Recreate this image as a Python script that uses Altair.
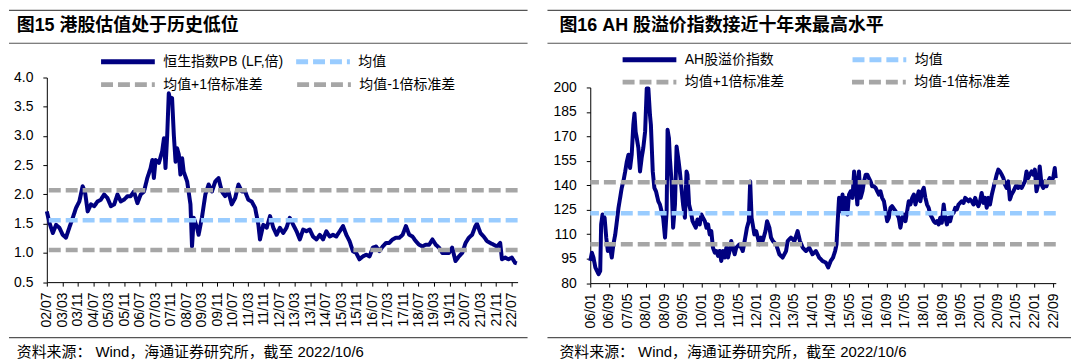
import altair as alt
import pandas as pd

FONT = "Liberation Sans, Noto Sans CJK SC, sans-serif"
NAVY = "#000080"
LIGHT_BLUE = "#99CCFF"
GRAY = "#A6A6A6"
SOURCE = "资料来源：  Wind，海通证券研究所，截至 2022/10/6"

# ---------------- Panel 1: HSI PB ----------------
PB_TITLE = "图15 港股估值处于历史低位"
PB_START = "2002-07-01"
PB_END = (2022, 10, 6)
# months elapsed since PB_START
pb_months = [
    0, 1.4, 3.1, 4.8, 6.5, 8.2, 9.9, 11.6, 13.4, 15.1,
    16.8, 18.5, 19.7, 21.1, 22.8, 24.5, 26.2, 27.9, 29.6, 31.3,
    33.1, 34.8, 36.5, 38.2, 39.9, 41.6, 43.3, 45.0, 46.8, 48.5,
    50.2, 51.9, 53.6, 54.5, 55.3, 56.2, 57.9, 59.6, 60.5, 61.3,
    62.2, 63.0, 63.9, 64.7, 65.6, 66.5, 67.3, 68.2, 69.0, 69.9,
    70.7, 72.5, 74.2, 75.0, 75.9, 77.6, 78.4, 80.1, 81.9, 83.6,
    85.3, 87.0, 88.7, 90.4, 92.1, 93.8, 95.5, 97.3, 99.0, 100.7,
    102.4, 104.1, 105.8, 107.6, 109.3, 110.1, 111.8, 113.6, 115.3, 117.0,
    118.7, 120.4, 122.1, 123.8, 125.5, 127.3, 129.0, 130.7, 132.4, 134.1,
    135.8, 137.5, 139.3, 141.0, 142.7, 144.4, 146.1, 147.8, 149.5, 151.3,
    153.0, 154.7, 156.4, 158.1, 159.8, 161.5, 163.2, 165.0, 166.7, 168.4,
    170.1, 171.8, 173.5, 175.2, 176.9, 178.6, 180.3, 182.1, 183.8, 185.5,
    187.2, 188.9, 190.6, 192.3, 194.0, 195.7, 197.5, 199.2, 200.9, 202.6,
    204.3, 206.0, 207.7, 209.4, 211.1, 212.9, 214.6, 216.3, 218.0, 219.7,
    221.4, 222.2, 224.0, 225.7, 227.4, 229.1, 230.8, 232.5, 234.2, 235.1,
    236.8, 238.5, 240.2, 241.9, 242.8,
]
pb_values = [
    1.71, 1.51, 1.34, 1.48, 1.43, 1.31, 1.26, 1.43, 1.60, 1.77,
    1.88, 2.14, 2.05, 1.71, 1.83, 1.80, 1.88, 1.91, 2.00, 1.94,
    1.80, 1.83, 2.00, 1.88, 1.91, 1.97, 1.97, 2.05, 1.85, 2.00,
    2.05, 2.28, 2.45, 2.59, 2.28, 2.59, 2.54, 2.74, 2.96, 2.45,
    3.02, 3.73, 3.59, 3.65, 3.02, 2.56, 2.79, 2.68, 2.34, 2.62,
    2.39, 2.22, 1.83, 1.11, 1.60, 1.43, 1.31, 1.60, 2.00, 2.17,
    2.05, 2.22, 2.28, 2.05, 1.97, 2.05, 1.83, 1.94, 2.17, 2.05,
    2.05, 1.91, 1.88, 1.77, 1.48, 1.23, 1.48, 1.43, 1.63, 1.43,
    1.31, 1.43, 1.34, 1.43, 1.60, 1.48, 1.37, 1.23, 1.40, 1.37,
    1.40, 1.28, 1.23, 1.31, 1.23, 1.37, 1.28, 1.31, 1.28, 1.37,
    1.46, 1.31, 1.20, 1.03, 1.00, 0.89, 0.94, 0.97, 0.94, 1.09,
    1.11, 1.03, 1.11, 1.17, 1.17, 1.23, 1.26, 1.26, 1.31, 1.46,
    1.31, 1.28, 1.20, 1.14, 1.11, 1.14, 1.14, 1.23, 1.14, 1.09,
    1.00, 1.00, 1.00, 1.09, 0.86, 0.94, 1.00, 1.17, 1.26, 1.31,
    1.46, 1.50, 1.34, 1.28, 1.20, 1.17, 1.14, 1.11, 1.17, 0.89,
    0.92, 0.89, 0.92, 0.83, 0.82,
]
pb_series = ["恒生指数PB (LF,倍)", "均值", "均值+1倍标准差", "均值-1倍标准差"]
pb_ref_values = [1.56, 2.07, 1.05]
pb_y_ticks = [0.5, 1.0, 1.5, 2.0, 2.5, 3.0, 3.5, 4.0]
pb_x_ticks = pd.date_range("2002-07-01", "2022-07-01", freq="8MS")

# ---------------- Panel 2: AH premium ----------------
AH_TITLE = "图16 AH 股溢价指数接近十年来最高水平"
AH_START = "2006-01-01"
AH_END = (2022, 10, 6)
ah_months = [
    0, 0.7, 1.4, 2.2, 2.9, 3.6, 4.3, 4.7, 5.3, 6.2,
    6.9, 7.6, 8.3, 9.3, 10.0, 10.8, 11.5, 12.2, 12.9, 13.6,
    14.3, 15.1, 15.8, 16.5, 17.2, 17.9, 18.6, 19.1, 19.6, 20.1,
    20.8, 21.5, 22.2, 22.9, 23.7, 24.4, 25.1, 25.8, 26.2, 27.0,
    27.7, 28.4, 29.4, 30.1, 30.8, 31.5, 32.3, 33.0, 33.4, 34.0,
    34.4, 35.1, 35.8, 36.6, 37.3, 38.0, 38.7, 39.4, 40.1, 40.9,
    41.6, 42.0, 42.7, 43.4, 44.2, 44.9, 45.6, 46.3, 47.3, 48.0,
    48.7, 49.5, 50.2, 50.9, 51.6, 52.3, 53.0, 53.8, 54.5, 55.2,
    55.9, 56.6, 57.3, 58.1, 58.8, 59.5, 60.2, 60.9, 61.6, 62.4,
    63.1, 64.5, 65.9, 66.7, 67.7, 68.5, 69.1, 69.7, 70.2, 70.9,
    71.7, 72.4, 73.1, 73.8, 74.5, 75.7, 76.4, 77.4, 78.1, 78.9,
    80.3, 81.7, 83.1, 84.6, 85.3, 86.7, 88.2, 89.6, 90.6, 91.8,
    93.2, 94.6, 96.0, 97.5, 98.9, 100.3, 101.8, 102.8, 103.9, 104.9,
    105.8, 106.4, 107.0, 107.5, 108.3, 109.0, 109.7, 110.4, 111.1, 111.8,
    112.5, 113.3, 114.0, 114.7, 115.4, 116.1, 116.8, 117.6, 118.3, 119.0,
    119.7, 120.4, 121.1, 121.8, 122.6, 123.3, 124.0, 124.7, 125.4, 126.1,
    126.9, 127.6, 128.3, 129.0, 129.7, 130.4, 131.9, 133.3, 134.0, 134.8,
    135.5, 136.2, 136.9, 137.6, 138.3, 139.1, 139.8, 140.5, 141.2, 141.9,
    142.6, 143.4, 144.1, 144.8, 145.5, 146.2, 146.9, 147.7, 148.4, 149.1,
    149.8, 150.5, 151.2, 151.9, 152.7, 153.4, 154.1, 154.8, 155.5, 156.2,
    157.0, 157.7, 158.4, 159.1, 159.8, 160.5, 161.3, 162.0, 162.7, 163.4,
    164.1, 164.8, 165.6, 166.3, 167.0, 167.7, 168.4, 169.1, 169.9, 170.6,
    171.3, 172.0, 172.7, 173.5, 174.2, 174.9, 175.6, 176.3, 177.0, 177.8,
    178.5, 179.2, 179.9, 180.6, 181.3, 182.0, 182.8, 183.5, 184.2, 184.9,
    185.6, 186.4, 187.1, 187.8, 188.5, 189.2, 189.9, 190.7, 191.4, 192.1,
    192.8, 193.5, 194.2, 195.0, 195.7, 196.4, 197.1, 197.8, 198.5, 199.3,
    200.0, 200.7, 201.1,
]
ah_values = [
    93.6, 98.7, 95.6, 89.6, 87.5, 85.5, 87.5, 116.0, 122.1, 120.1,
    107.9, 99.7, 103.8, 95.7, 103.8, 109.9, 118.0, 126.2, 132.3, 138.4,
    142.4, 148.5, 154.6, 158.7, 150.6, 158.7, 177.0, 184.1, 172.9, 168.9,
    162.8, 148.5, 156.7, 162.8, 172.9, 199.4, 199.4, 183.1, 177.0, 148.5,
    138.4, 136.3, 130.2, 128.2, 124.1, 120.1, 107.9, 124.1, 174.0, 168.9,
    156.7, 142.4, 114.0, 128.2, 163.8, 156.7, 148.5, 138.4, 128.2, 120.1,
    148.5, 146.5, 128.2, 124.1, 118.0, 116.0, 114.0, 119.0, 116.0, 122.1,
    120.1, 118.0, 114.0, 116.0, 109.9, 111.9, 101.8, 98.7, 99.7, 96.7,
    99.7, 93.6, 99.7, 95.7, 101.8, 95.7, 99.7, 105.8, 101.8, 97.7,
    101.8, 103.8, 99.7, 105.8, 114.0, 118.0, 142.4, 120.1, 116.0, 109.9,
    111.9, 107.9, 103.8, 107.9, 105.8, 111.9, 118.0, 114.0, 107.9, 105.8,
    103.8, 97.7, 95.7, 99.7, 105.8, 107.9, 105.8, 111.9, 105.8, 101.8,
    99.7, 101.8, 97.7, 99.7, 95.7, 93.6, 92.6, 89.6, 93.6, 95.7,
    99.7, 103.8, 120.1, 132.3, 124.1, 134.3, 124.1, 132.3, 122.1, 134.3,
    136.3, 132.3, 148.5, 140.4, 128.2, 148.5, 132.3, 136.3, 142.4, 146.5,
    146.5, 144.4, 142.4, 139.4, 139.4, 138.4, 136.3, 134.3, 136.3, 132.3,
    130.2, 124.1, 118.0, 120.1, 126.2, 127.2, 124.1, 120.1, 114.0, 120.1,
    122.1, 118.0, 124.1, 130.2, 128.2, 132.3, 134.3, 128.2, 132.3, 136.3,
    130.2, 136.3, 138.4, 132.3, 128.2, 126.2, 122.1, 120.1, 118.0, 117.0,
    118.0, 116.0, 120.1, 117.0, 128.2, 120.1, 116.0, 120.1, 118.0, 122.1,
    123.1, 126.2, 125.2, 128.2, 129.2, 130.2, 129.2, 132.3, 131.3, 130.2,
    131.3, 130.2, 128.2, 132.3, 129.2, 127.2, 130.2, 135.3, 129.2, 132.3,
    126.2, 132.3, 128.2, 134.3, 138.4, 142.4, 146.5, 149.6, 148.5, 146.5,
    144.4, 140.4, 138.4, 142.4, 131.3, 134.3, 136.3, 138.4, 140.4, 138.4,
    139.4, 138.4, 140.4, 142.4, 148.5, 144.4, 146.5, 148.5, 146.5, 149.6,
    136.3, 140.4, 151.6, 140.4, 138.4, 142.4, 139.4, 142.4, 144.4, 143.4,
    144.4, 150.6, 144.4,
]
ah_series = ["AH股溢价指数", "均值", "均值+1倍标准差", "均值-1倍标准差"]
ah_ref_values = [122.8, 141.8, 103.9]
ah_y_ticks = [80, 95, 110, 125, 140, 155, 170, 185, 200]
ah_x_ticks = pd.date_range("2006-01-01", "2022-09-01", freq="8MS")


def to_dates(start, months):
    base = pd.Timestamp(start)
    return [(base + pd.to_timedelta(m * 30.4375, unit="D")).strftime("%Y-%m-%dT%H:%M:%SZ")
            for m in months]


def dt(ts):
    return alt.DateTime(year=ts.year, month=ts.month, date=ts.day, utc=True)


def make_legend(lx, ly, cpad, dash=None):
    kw = dict(
        title=None, orient="none", legendX=lx, legendY=ly, columns=2,
        direction="horizontal", columnPadding=cpad, symbolType="stroke",
        symbolSize=2916, symbolStrokeWidth=5, labelFontSize=14, labelFont=FONT,
        labelColor="#000000", labelOffset=6, padding=0, labelLimit=300,
    )
    if dash is not None:
        kw["symbolDash"] = dash
    return alt.Legend(**kw)


def panel(title, start, end, months, values, series, ref_values, y_domain, y_ticks, y_fmt,
          x_ticks, width, height, y_top, leg, deco):
    main = series[:2]
    bands = series[2:]
    line_df = pd.DataFrame({"date": to_dates(start, months), "value": values, "series": main[0]})
    mean_df = pd.DataFrame({"value": [ref_values[0]], "series": [main[1]]})
    band_df = pd.DataFrame({"value": ref_values[1:], "band": bands})

    l1 = make_legend(leg["x"], leg["y1"], leg["cp1"])
    l2 = make_legend(leg["x"], leg["y2"], leg["cp2"], dash=[12, 5])
    color = alt.Color("series:N", scale=alt.Scale(domain=main, range=[NAVY, LIGHT_BLUE]), legend=l1)
    sdash = alt.StrokeDash("series:N", scale=alt.Scale(domain=main, range=[[1, 0], [12, 5]]), legend=l1)
    stroke = alt.Stroke("band:N", scale=alt.Scale(domain=bands, range=[GRAY, GRAY]), legend=l2)

    x_enc = alt.X(
        "date:T",
        scale=alt.Scale(type="utc", domain=[dt(pd.Timestamp(start)),
                                            alt.DateTime(year=end[0], month=end[1], date=end[2], utc=True)]),
        axis=alt.Axis(values=[dt(t) for t in x_ticks], format="%y/%m", labelAngle=270,
                      labelFontSize=14, labelFont=FONT, labelColor="#000000", tickSize=4,
                      tickColor="#000000", domainColor="#000000", labelPadding=6, grid=False,
                      title=None, labelOverlap=False, labelFlush=False),
    )
    y_scale = alt.Scale(domain=y_domain, nice=False, zero=False, range=[height, y_top])
    y_axis = alt.Axis(values=y_ticks, format=y_fmt, labelFontSize=14, labelFont=FONT,
                      labelColor="#000000", tickSize=4, tickColor="#000000",
                      domainColor="#000000", labelPadding=10, grid=False, title=None)
    y_enc = alt.Y("value:Q", scale=y_scale, axis=y_axis)

    line = alt.Chart(line_df).mark_line(strokeWidth=4, strokeJoin="round").encode(
        x=x_enc, y=y_enc, color=color, strokeDash=sdash)
    mean = alt.Chart(mean_df).mark_rule(strokeWidth=4.5).encode(
        y=y_enc, color=color, strokeDash=sdash)
    band = alt.Chart(band_df).mark_rule(strokeWidth=4.5, strokeDash=[12, 5]).encode(
        y=y_enc, stroke=stroke)

    one = pd.DataFrame({"k": [0]})
    layers = [line, mean, band]
    for yy in deco["seps"]:
        layers.append(alt.Chart(one).mark_rule(color="#555555", strokeWidth=1.2).encode(
            x=alt.value(deco["sep_x"][0]), x2=alt.value(deco["sep_x"][1]), y=alt.value(yy)))
    layers.append(alt.Chart(pd.DataFrame({"t": [title]})).mark_text(
        align="left", baseline="middle", fontSize=18, fontWeight="bold", font=FONT,
        color="#000000").encode(text="t:N", x=alt.value(deco["title_xy"][0]), y=alt.value(deco["title_xy"][1])))
    layers.append(alt.Chart(pd.DataFrame({"t": [SOURCE]})).mark_text(
        align="left", baseline="middle", fontSize=15, font=FONT,
        color="#000000").encode(text="t:N", x=alt.value(deco["src_xy"][0]), y=alt.value(deco["src_xy"][1])))
    return alt.layer(*layers).properties(width=width, height=height)


left = panel(PB_TITLE, PB_START, PB_END, pb_months, pb_values, pb_series, pb_ref_values,
             [0.5, 4.0], pb_y_ticks, ".1f", pb_x_ticks, 473, 205.6, 0,
             {"x": 52, "y1": -45.5, "y2": -22.6, "cp1": 2, "cp2": 24},
             {"seps": [-67.5, -34.4, 261.3], "sep_x": [-38, 483],
              "title_xy": [-30.2, -51.7], "src_xy": [-30.2, 275.9]})

right = panel(AH_TITLE, AH_START, AH_END, ah_months, ah_values, ah_series, ah_ref_values,
              [80, 200], ah_y_ticks, "d", ah_x_ticks, 467.7, 206.6, 10,
              {"x": 30, "y1": -47.5, "y2": -25.1, "cp1": 68, "cp2": 57.5},
              {"seps": [-67.5, -34.4, 261.3], "sep_x": [-43, 483],
               "title_xy": [-31, -51.7], "src_xy": [-31, 275.9]})

chart = alt.hconcat(left, right, spacing=18).resolve_scale(
    color="independent", strokeDash="independent", stroke="independent",
    x="independent", y="independent"
).resolve_legend(color="independent", strokeDash="independent", stroke="independent").properties(
    padding=0, background="#ffffff"
).configure_view(strokeWidth=0)

chart.save("out.html", embed_options={"renderer": "svg", "actions": False})
